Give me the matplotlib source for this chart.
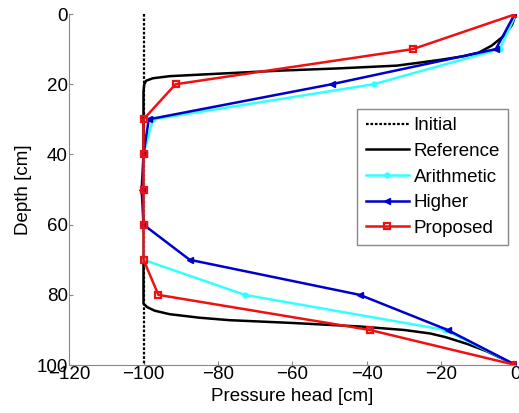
import numpy as np
import matplotlib
matplotlib.use("Agg")
import matplotlib.pyplot as plt

plt.rcParams['font.family'] = ['Liberation Sans', 'DejaVu Sans']

# node depths [cm]
depth = [0, 10, 20, 30, 40, 50, 60, 70, 80, 90, 100]

arithmetic = [0, -4.3, -38.2, -97.5, -100, -100, -100, -100, -72.8, -19.0, 0]
higher = [-0.3, -5.4, -49.5, -98.6, -100, -100.5, -100, -87.6, -41.9, -18.3, 0]
proposed = [0, -27.7, -91.4, -100, -100, -100, -100, -100, -96.0, -39.2, 0]

# reference solution (fine grid)
ref_depth = [0, 3, 6, 9, 11, 12, 13, 14, 14.7, 15.5, 16.1, 17, 17.7, 18.3,
             19, 20, 22, 40, 60, 80, 82.5, 83.5, 84.5, 85.5, 86.5, 87.2,
             88, 89, 90, 91, 92, 94, 96, 98, 100]
ref_head = [0, -1, -3, -6.5, -10, -14, -20, -27, -32, -48, -63, -80, -93,
            -97.5, -99.3, -99.8, -100, -100, -100, -100, -100, -99, -97,
            -93, -85, -77, -60, -42, -30, -23, -19, -13, -8, -4, 0]

init_depth = [0, 100]
init_head = [-100, -100]

fs = 13.5

fig = plt.figure(figsize=(5.19, 4.13), dpi=100)
ax = fig.add_axes([0.133, 0.116, 0.861, 0.850])

ax.plot(init_head, init_depth, color='black', linestyle=(0, (1.2, 0.8)), lw=1.6, label='Initial')
ax.plot(ref_head, ref_depth, color='black', lw=1.8, label='Reference')
ax.plot(arithmetic, depth, color='#33ffff', lw=1.8, marker='.', ms=7, label='Arithmetic')
ax.plot(higher, depth, color='#0000cc', lw=1.8, marker='<', ms=5, label='Higher')
ax.plot(proposed, depth, color='#ee1111', lw=1.8, marker='s', ms=5, mfc='none', mew=1.6,
        label='Proposed')

ax.set_xlim(-120, 0)
ax.set_ylim(100, 0)
ax.set_xticks(np.arange(-120, 1, 20))
ax.set_yticks(np.arange(0, 101, 20))
ax.tick_params(direction='in', length=3, labelsize=fs, color='#888888', pad=1)
for s in ['top', 'right']:
    ax.spines[s].set_visible(False)
for s in ['left', 'bottom']:
    ax.spines[s].set_color('#888888')
ax.set_xlabel('Pressure head [cm]', fontsize=fs, labelpad=3)
ax.set_ylabel('Depth [cm]', fontsize=fs, labelpad=3)

leg = ax.legend(loc='upper right', bbox_to_anchor=(0.983, 0.73), fontsize=fs,
                handlelength=2.3, handletextpad=0.25, labelspacing=0.45,
                borderpad=0.45, fancybox=False, framealpha=1, borderaxespad=0)
leg.get_frame().set_edgecolor('#888888')

fig.savefig('out.png', dpi=100)
